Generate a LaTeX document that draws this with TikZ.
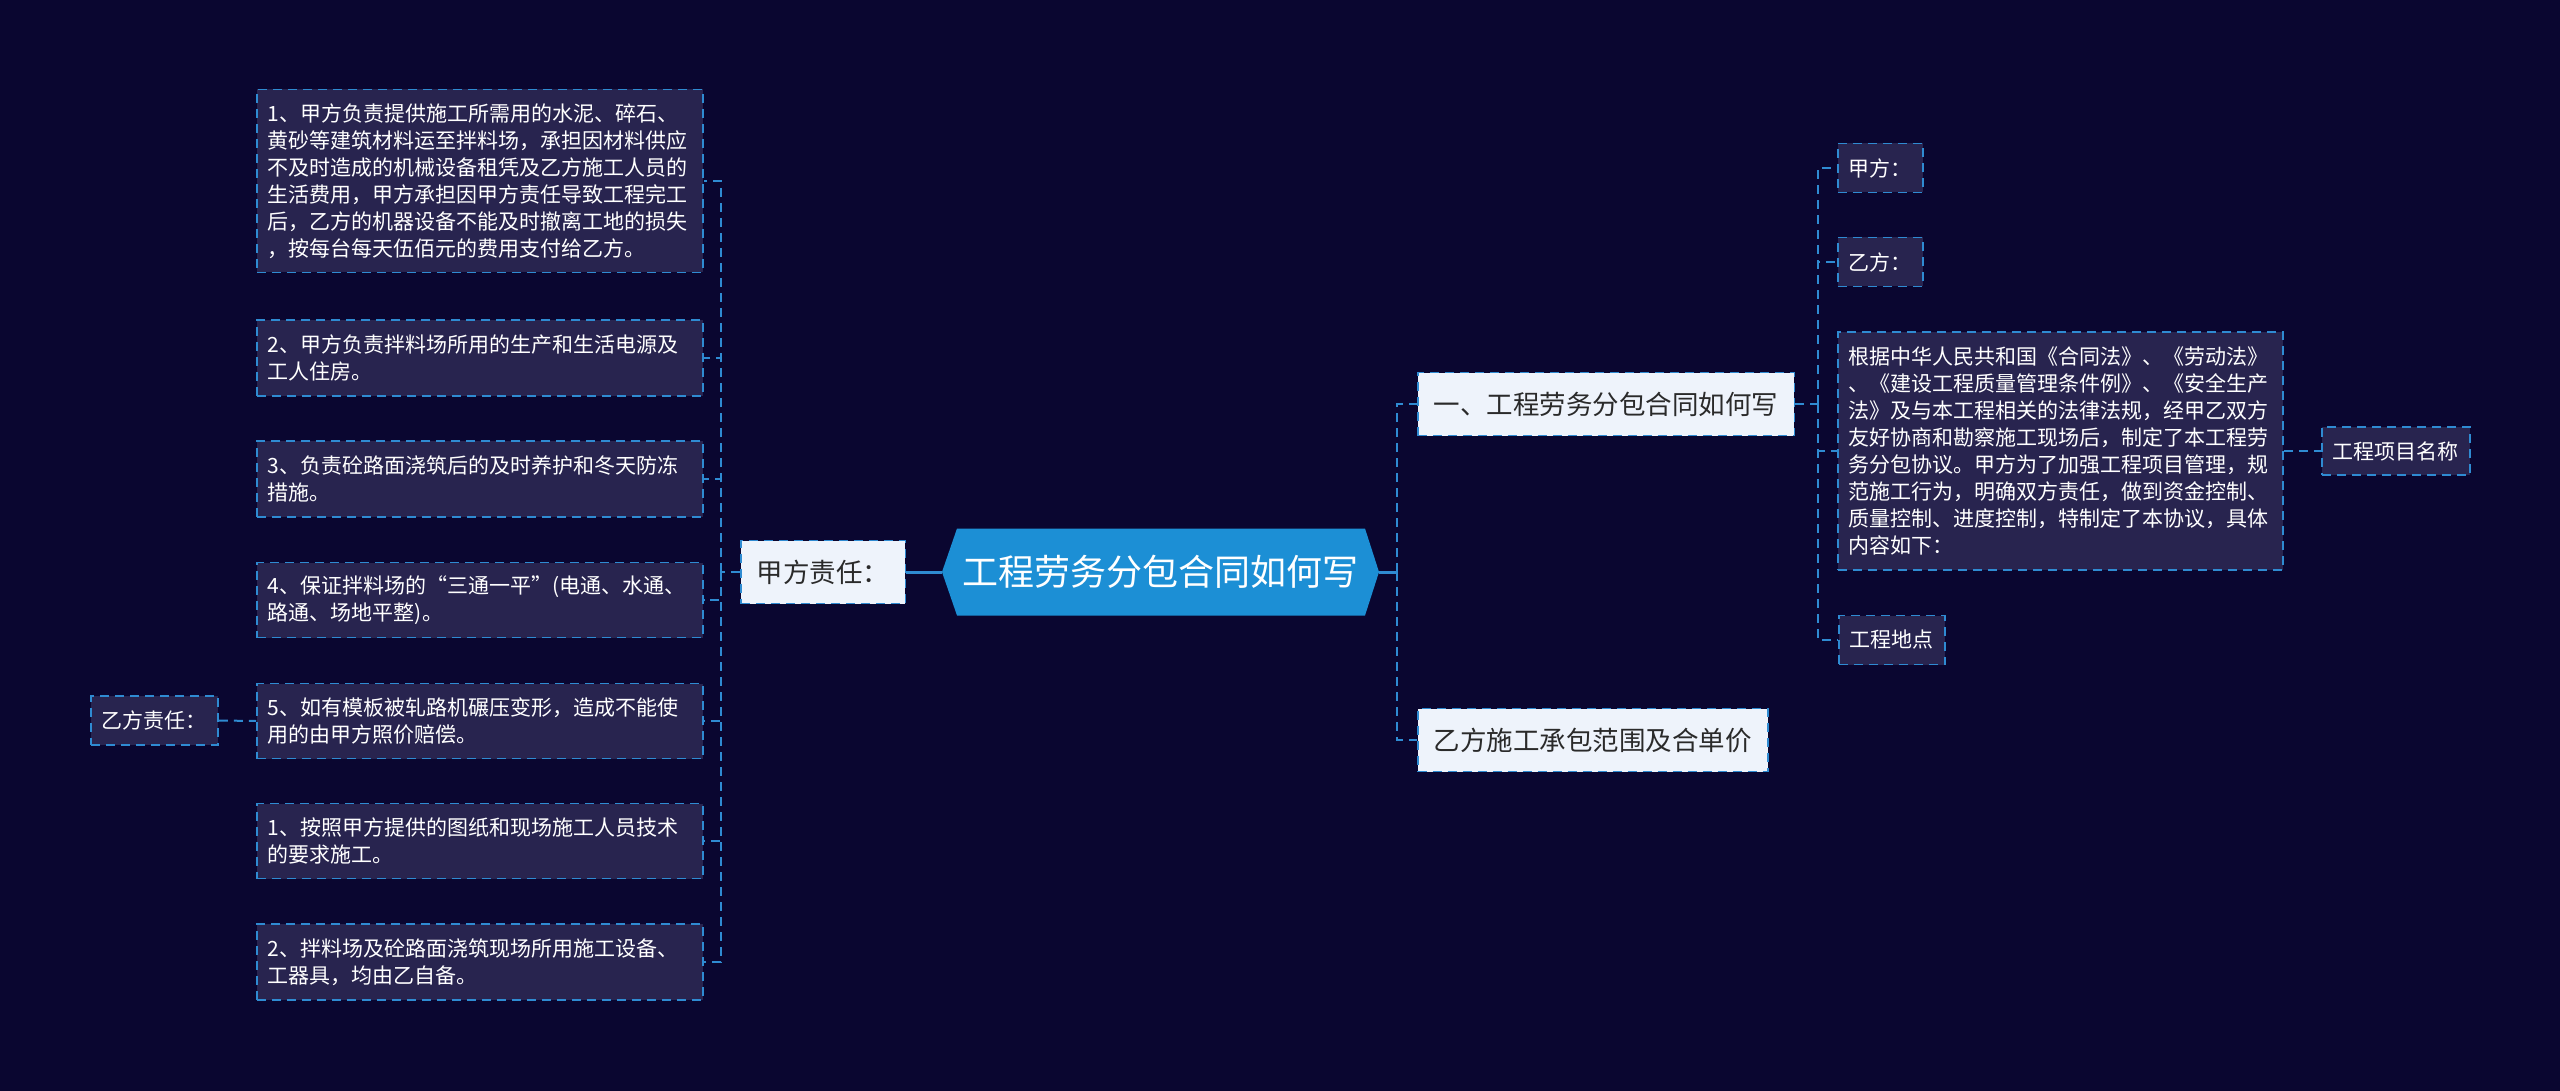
\documentclass[tikz,border=0pt]{standalone}
\usepackage{fontspec}
\usepackage{xcolor}
\usepackage{tikz}
\newfontfamily\zhfont{Noto Sans CJK SC}
\definecolor{bgnavy}{HTML}{0A0630}
\definecolor{leaffill}{HTML}{28244F}
\definecolor{linkblue}{HTML}{2F8BD2}
\definecolor{topicfill}{HTML}{EEF3FB}
\definecolor{rootblue}{HTML}{1C8FD5}
\definecolor{topictext}{HTML}{2A2A2A}

\begin{document}
\begin{tikzpicture}%
                    [x=1pt, y=-1pt,
                    link/.style={draw=linkblue, line width=2pt, dash pattern=on 9pt off 6pt},
                    mainlink/.style={draw=linkblue, line width=3pt},
                    leaf/.style={draw=linkblue, line width=1.8pt, dash pattern=on 9pt off 6pt,
                                 fill=leaffill, text=white, inner xsep=11pt, inner ysep=0pt,
                                 minimum height=49pt, anchor=west,
                                 font=\zhfont\fontsize{21}{27}\selectfont},
                    longleaf/.style={leaf, text width=424pt, align=left},
                    topic/.style={draw=linkblue, line width=1.8pt, dash pattern=on 9pt off 6pt,
                                  fill=topicfill, text=topictext, inner xsep=16pt, inner ysep=0pt,
                                  minimum height=63pt, anchor=west,
                                  font=\zhfont\fontsize{26.5}{30}\selectfont},
                    root/.style={minimum width=437pt, minimum height=87pt, inner sep=0pt,
                                 text=white, font=\zhfont\fontsize{36}{40}\selectfont,
                                 path picture={\fill[rootblue]
                                   (path picture bounding box.west)
                                   -- ([xshift=15pt]path picture bounding box.north west)
                                   -- ([xshift=-14pt]path picture bounding box.north east)
                                   -- (path picture bounding box.east)
                                   -- ([xshift=-14pt]path picture bounding box.south east)
                                   -- ([xshift=15pt]path picture bounding box.south west)
                                   -- cycle;}}]

                %% Background
                \fill[bgnavy] (0,0) rectangle (2560,1091);
                %%
                %% Centre and first level
                %%
                \node[root] (root) at (1160.5,572) {工程劳务分包合同如何写};
                \node[topic] (jiaduty) at (740,572) {甲方责任：};
                \node[topic] (howto) at (1417,404) {一、工程劳务分包合同如何写};
                \node[topic] (scope) at (1417,740) {乙方施工承包范围及合单价};
                %%
                %% Left leaves
                %%
                \node[longleaf, minimum height=183pt] (jia1) at (256,181) {1、甲方负责提供施工所需用的水泥、碎石、\\黄砂等建筑材料运至拌料场，承担因材料供应\\不及时造成的机械设备租凭及乙方施工人员的\\生活费用，甲方承担因甲方责任导致工程完工\\后，乙方的机器设备不能及时撤离工地的损失\\，按每台每天伍佰元的费用支付给乙方。};
                \node[longleaf, minimum height=76pt] (jia2) at (256,358) {2、甲方负责拌料场所用的生产和生活电源及\\工人住房。};
                \node[longleaf, minimum height=76pt] (jia3) at (256,479) {3、负责砼路面浇筑后的及时养护和冬天防冻\\措施。};
                \node[longleaf, minimum height=75pt] (jia4) at (256,600) {4、保证拌料场的“三通一平”(电通、水通、\\路通、场地平整)。};
                \node[longleaf, minimum height=75pt] (jia5) at (256,721) {5、如有模板被轧路机碾压变形，造成不能使\\用的由甲方照价赔偿。};
                \node[longleaf, minimum height=75pt] (jia6) at (256,841) {1、按照甲方提供的图纸和现场施工人员技术\\的要求施工。};
                \node[longleaf, minimum height=76pt] (jia7) at (256,962) {2、拌料场及砼路面浇筑现场所用施工设备、\\工器具，均由乙自备。};
                \node[leaf] (yiduty) at (90,720.5) {乙方责任：};
                %%
                %% Right leaves
                %%
                \node[leaf] (partya) at (1837,168) {甲方：};
                \node[leaf] (partyb) at (1837,262) {乙方：};
                \node[longleaf, text width=423pt, minimum height=238pt] (basis) at (1837,451) {根据中华人民共和国《合同法》、《劳动法》\\、《建设工程质量管理条件例》、《安全生产\\法》及与本工程相关的法律法规，经甲乙双方\\友好协商和勘察施工现场后，制定了本工程劳\\务分包协议。甲方为了加强工程项目管理，规\\范施工行为，明确双方责任，做到资金控制、\\质量控制、进度控制，特制定了本协议，具体\\内容如下：};
                \node[leaf] (site) at (1838,640) {工程地点};
                \node[leaf, minimum height=48pt] (projname) at (2321,451) {工程项目名称};
                %%
                %% Forks
                %%
                \coordinate (jiafork) at (721,572);
                \coordinate (rootfork) at (1397,572);
                \coordinate (howfork) at (1818,404);
                %%
                %% Connectors
                %%
                \draw[mainlink] (root.west) -- (jiaduty.east);
                \draw[mainlink] (root.east) -- (rootfork);
                \draw[link] (rootfork) |- (howto.west);
                \draw[link] (rootfork) |- (scope.west);
                \draw[link] (jiaduty.west) -- (jiafork);
                \foreach \leafname in {jia1,jia2,jia3,jia4,jia5,jia6,jia7}
                    \draw[link] (jiafork) |- (\leafname.east);
                \draw[link] (yiduty.east) -- (jia5.west);
                \draw[link] (howto.east) -- (howfork);
                \foreach \leafname in {partya,partyb,basis,site}
                    \draw[link] (howfork) |- (\leafname.west);
                \draw[link] (basis.east) -- (projname.west);
                %%
\end{tikzpicture}
\end{document}
